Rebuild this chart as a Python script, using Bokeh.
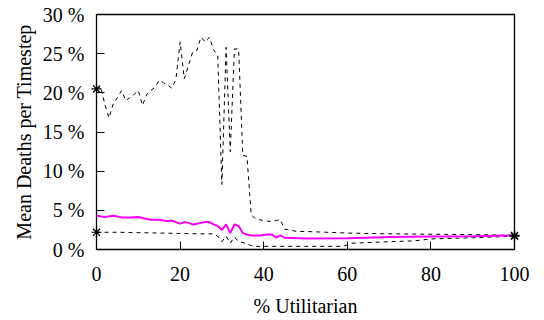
from bokeh.plotting import figure
from bokeh.models import Range1d, PrintfTickFormatter, FixedTicker
from bokeh.embed import file_html
from bokeh.resources import INLINE

# Series A: upper dashed line (% deaths)
xa = [0, 1, 2, 3, 4, 5, 6, 7, 8, 9, 10, 11, 12, 13, 14, 15, 16, 17, 18, 19,
      20, 21, 22, 23, 24, 25, 26, 27, 28, 29, 30, 31, 32, 33, 34, 35, 36, 37,
      38, 39, 40, 41, 42, 43, 44, 45, 46, 47, 48, 50, 55, 60, 70, 80, 90, 100]
ya = [20.5, 20.8, 18.5, 16.8, 18.6, 19.4, 20.3, 19.0, 19.4, 19.8, 20.3, 18.4,
      19.8, 20.3, 20.7, 21.6, 21.3, 21.0, 20.6, 21.7, 26.5, 21.8, 23.5, 25.2,
      25.4, 27.1, 26.5, 27.1, 25.5, 24.8, 8.3, 25.8, 12.5, 25.6, 25.6, 12.0,
      11.9, 4.5, 3.9, 3.8, 3.7, 3.6, 3.6, 3.7, 3.8, 2.6, 2.5, 2.4, 2.3, 2.3,
      2.2, 2.1, 2.0, 1.95, 1.9, 1.8]

# Series B: lower dashed line
xb = [0, 5, 10, 15, 20, 25, 28, 29, 30, 31, 32, 33, 34, 35, 36, 37, 38, 40,
      50, 59, 61, 70, 76, 80, 90, 100]
yb = [2.2, 2.2, 2.15, 2.1, 2.05, 2.0, 2.0, 1.7, 1.0, 1.7, 0.8, 1.6, 1.0, 0.9,
      0.7, 0.5, 0.4, 0.4, 0.4, 0.4, 0.8, 1.0, 1.1, 1.35, 1.5, 1.7]

# Series C: magenta solid line
xc = [0, 2, 4, 6, 8, 10, 12, 13, 15, 17, 18, 19, 20, 21, 22, 23, 24, 25, 26,
      27, 28, 29, 30, 31, 32, 33, 34, 35, 36, 37, 39, 41, 42, 43, 44, 45, 50,
      60, 70, 80, 90, 100]
yc = [4.3, 4.15, 4.3, 4.1, 4.1, 4.15, 3.9, 3.8, 3.8, 3.6, 3.7, 3.5, 3.3, 3.5,
      3.4, 3.2, 3.3, 3.4, 3.5, 3.5, 3.2, 3.0, 2.5, 3.2, 2.1, 3.2, 3.0, 2.1,
      1.9, 1.8, 1.8, 1.9, 1.9, 1.5, 1.8, 1.5, 1.4, 1.45, 1.6, 1.65, 1.7, 1.8]

x_ticks = [0, 20, 40, 60, 80, 100]
y_ticks = [0, 5, 10, 15, 20, 25, 30]

FONT = "Liberation Serif"

p = figure(width=544, height=320, output_backend="svg", toolbar_location=None,
           x_range=Range1d(0, 100), y_range=Range1d(0, 30),
           min_border_left=96, min_border_right=30, min_border_top=14,
           min_border_bottom=71)
p.background_fill_color = "white"
p.border_fill_color = "white"
p.outline_line_color = "black"
p.outline_line_width = 1.3
p.grid.visible = False

p.line(xa, ya, line_color="black", line_width=1, line_dash="4 4")
p.line(xb, yb, line_color="black", line_width=1, line_dash="4 4")
p.line(xc, yc, line_color="#ff00ff", line_width=2)

# end markers (drawn on overlay level so they are not cut at the frame edge)
p.scatter([xa[0], xa[-1]], [ya[0], ya[-1]], marker="asterisk", size=10,
          line_color="black", line_width=1.2, level="overlay")
p.scatter([xb[0], xb[-1]], [yb[0], yb[-1]], marker="asterisk", size=10,
          line_color="black", line_width=1.2, level="overlay")

for ax in (p.xaxis[0], p.yaxis[0]):
    ax.axis_line_color = "black"
    ax.major_tick_line_color = "black"
    ax.major_tick_in = 8
    ax.major_tick_out = 0
    ax.minor_tick_line_color = None
    ax.major_label_text_font = FONT
    ax.major_label_text_font_size = "20px"
    ax.major_label_text_color = "black"
    ax.axis_label_text_font = FONT
    ax.axis_label_text_font_size = "20px"
    ax.axis_label_text_font_style = "normal"
    ax.axis_label_text_color = "black"

p.xaxis.ticker = FixedTicker(ticks=x_ticks)
p.yaxis.ticker = FixedTicker(ticks=y_ticks)
p.yaxis.formatter = PrintfTickFormatter(format="%d %%")
p.xaxis.axis_label = "% Utilitarian"
p.yaxis.axis_label = "Mean Deaths per Timestep"
p.xaxis.major_label_standoff = 17
p.yaxis.major_label_standoff = 12
p.xaxis.axis_label_standoff = 11
p.yaxis.axis_label_standoff = 5

open("out.html", "w").write(file_html(p, INLINE))
